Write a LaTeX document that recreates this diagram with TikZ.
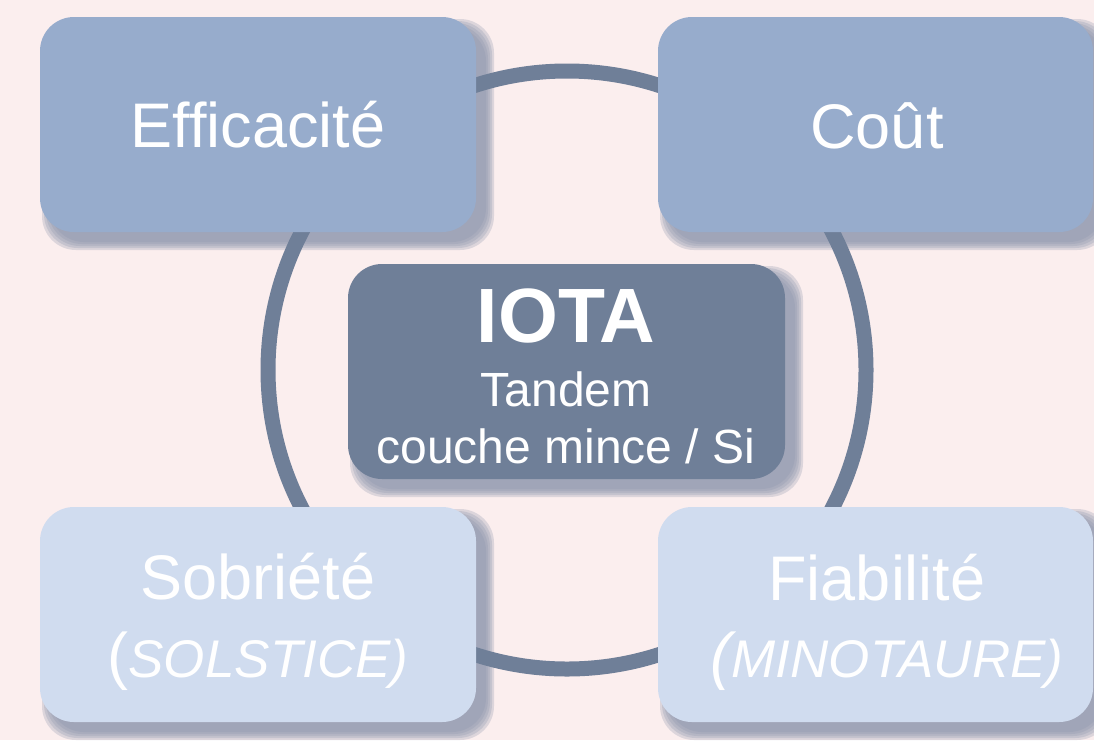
\documentclass[tikz,border=0pt]{standalone}
\usepackage{fontspec}
\setmainfont{Liberation Sans}
\usetikzlibrary{calc}
\definecolor{bgc}{HTML}{FBEEEE}
\definecolor{topc}{HTML}{97ACCC}
\definecolor{botc}{HTML}{D0DCEF}
\definecolor{darkc}{HTML}{6F7F98}
\definecolor{shc}{HTML}{8A93AB}
\pgfdeclarelayer{bglayer}
\pgfdeclarelayer{shadowlayer}
\pgfdeclarelayer{ringlayer}
\pgfsetlayers{bglayer,shadowlayer,ringlayer,main}
\newcommand\myboxshadow[1]{%
  \foreach \e in {8,6,4,2,0}{%
    \fill[shc, fill opacity=.27, rounded corners=34pt]
      ($(#1.north west)+(10-\e,10-\e)$) rectangle ($(#1.south east)+(10+\e,10+\e)$);}}
\begin{document}
\begin{tikzpicture}[x=1pt,y=-1pt,
  box/.style={rectangle, rounded corners=34pt, minimum width=#1, minimum height=215pt, inner sep=0pt, outer sep=0pt},
  big/.style={anchor=base, text=white, font=\fontsize{63}{70}\selectfont},
  mid/.style={anchor=base, text=white, font=\fontsize{48}{54}\selectfont},
  ttl/.style={anchor=base, text=white, font=\fontsize{77}{85}\selectfont\bfseries},
  sub/.style={anchor=base, text=white, font=\fontsize{53}{60}\selectfont\itshape}]
\begin{pgfonlayer}{bglayer}
  \fill[bgc] (0,0) rectangle (1094,740);
\end{pgfonlayer}
\useasboundingbox (0,0) rectangle (1094,740);

\node[box=436pt, fill=topc] (eff) at (258,124.5) {};
\node[box=435pt, fill=topc] (cout) at (875.5,124.5) {};
\node[box=437pt, fill=darkc] (iota) at (566.5,371.5) {};
\node[box=436pt, fill=botc] (sob) at (258,614.5) {};
\node[box=435pt, fill=botc] (fia) at (875.5,614.5) {};

\begin{pgfonlayer}{shadowlayer}
  \myboxshadow{eff}
  \myboxshadow{cout}
  \myboxshadow{iota}
  \myboxshadow{sob}
  \myboxshadow{fia}
\end{pgfonlayer}

\begin{pgfonlayer}{ringlayer}
  \coordinate (ringc) at (567,370);
  \draw[darkc, line width=15pt] (ringc) circle[radius=299pt];
\end{pgfonlayer}

\node[big] (efft) at (258,147) {Efficacité};
\node[big] (coutt) at (877,148) {Coût};
\node[ttl] (iotat) at (566,342) {IOTA};
\node[mid] (iotab) at (566,406) {Tandem};
\node[mid] (iotac) at (566,463) {couche mince / Si};
\node[big] (sobt) at (258,599) {Sobriété};
\node[sub] (sobs) at (258,677) {{\fontsize{63}{70}\selectfont\upshape(}SOLSTICE)};
\node[big] (fiat) at (877,600) {Fiabilité};
\node[sub] (fias) at (887,677) {{\fontsize{63}{70}\selectfont(}MINOTAURE)};
\end{tikzpicture}
\end{document}
